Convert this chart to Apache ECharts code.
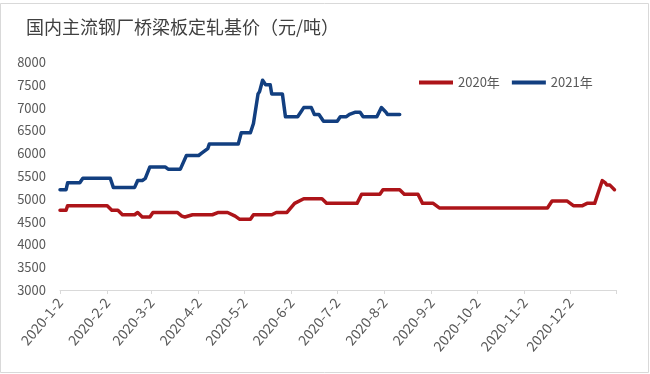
<!DOCTYPE html>
<html>
<head>
<meta charset="utf-8">
<script src="https://cdn.jsdelivr.net/npm/echarts@6/dist/echarts.min.js"></script>
<style>
html,body{margin:0;padding:0;background:#fff;}
#chart{width:650px;height:374px;}
</style>
</head>
<body>
<div id="chart"></div>
<script>
// Title and legend text
const titleText = '国内主流钢厂桥梁板定轧基价（元/吨）';
const seriesNames = ['2020年', '2021年'];

// Y axis ticks
const yMin = 3000, yMax = 8000, yStep = 500;

// 2020 price points (date, value)
const dates2020 = ['2020-1-2','2020-1-6','2020-1-7','2020-2-2','2020-2-5','2020-2-9','2020-2-12','2020-2-20','2020-2-22','2020-2-23','2020-2-25','2020-3-1','2020-3-3','2020-3-19','2020-3-22','2020-3-24','2020-3-29','2020-4-11','2020-4-15','2020-4-21','2020-4-26','2020-4-29','2020-5-6','2020-5-8','2020-5-20','2020-5-23','2020-5-30','2020-6-4','2020-6-10','2020-6-22','2020-6-25','2020-7-15','2020-7-18','2020-7-30','2020-8-1','2020-8-12','2020-8-15','2020-8-24','2020-8-27','2020-9-3','2020-9-7','2020-11-17','2020-11-20','2020-11-30','2020-12-4','2020-12-10','2020-12-13','2020-12-18','2020-12-23','2020-12-25','2020-12-26','2020-12-28','2020-12-31'];
const price2020 = [4750,4750,4850,4850,4750,4750,4650,4650,4700,4700,4600,4600,4700,4700,4620,4600,4650,4650,4700,4700,4620,4550,4550,4650,4650,4700,4700,4900,5000,5000,4900,4900,5100,5100,5200,5200,5100,5100,4900,4900,4800,4800,4950,4950,4850,4850,4900,4900,5400,5350,5300,5300,5200];

// 2021 price points, placed at the same month-day on the shared axis
const dates2021 = ['2020-1-2','2020-1-6','2020-1-7','2020-1-15','2020-1-17','2020-2-4','2020-2-6','2020-2-20','2020-2-22','2020-2-25','2020-2-27','2020-2-28','2020-3-1','2020-3-11','2020-3-13','2020-3-21','2020-3-25','2020-4-2','2020-4-4','2020-4-8','2020-4-9','2020-4-28','2020-4-30','2020-5-6','2020-5-8','2020-5-11','2020-5-12','2020-5-14','2020-5-16','2020-5-19','2020-5-20','2020-5-27','2020-5-29','2020-6-6','2020-6-8','2020-6-10','2020-6-15','2020-6-17','2020-6-20','2020-6-23','2020-7-2','2020-7-4','2020-7-8','2020-7-10','2020-7-14','2020-7-17','2020-7-19','2020-7-28','2020-7-31','2020-8-3','2020-8-4','2020-8-12'];
const price2021 = [5200,5200,5350,5350,5450,5450,5250,5250,5400,5400,5450,5450,5700,5700,5650,5650,5950,5950,6000,6100,6200,6200,6450,6450,6650,7300,7350,7600,7500,7500,7300,7300,6800,6800,6900,7000,7000,6850,6850,6700,6700,6800,6800,6850,6900,6900,6800,6800,7000,6900,6850,6850];

// Daily category axis from 2020-1-2 to 2021-1-1
const categories = [];
for (let t = Date.UTC(2020,0,2); t <= Date.UTC(2021,0,1); t += 86400000) {
  const d = new Date(t);
  categories.push(d.getUTCFullYear() + '-' + (d.getUTCMonth()+1) + '-' + d.getUTCDate());
}
const isMonthLabel = (idx, val) => /-2$/.test(val) && val.indexOf('2020') === 0;

const chart = echarts.init(document.getElementById('chart'));
const font = '"Noto Sans CJK SC", "Noto Sans", sans-serif';
chart.setOption({
  backgroundColor: '#fff',
  animation: false,
  title: {
    text: titleText,
    left: 21, top: 13,
    textStyle: { fontFamily: font, fontSize: 18, fontWeight: 'normal', color: '#404040' }
  },
  legend: {
    data: seriesNames,
    left: 414, top: 71,
    icon: 'rect',
    itemWidth: 34, itemHeight: 4,
    itemGap: 12,
    textStyle: { fontFamily: font, fontSize: 13, color: '#595959' }
  },
  graphic: [{
    type: 'rect', shape: { x: 0.5, y: 3.5, width: 648, height: 369 },
    style: { fill: 'none', stroke: '#d9d9d9', lineWidth: 1 }, silent: true, z: -1
  }],
  grid: { left: 60, right: 34, top: 62, bottom: 84 },
  xAxis: {
    type: 'category',
    data: categories,
    boundaryGap: false,
    axisLine: { lineStyle: { color: '#d9d9d9', width: 1 } },
    axisTick: { show: true, length: 4, interval: (i, v) => isMonthLabel(i, v) || i === categories.length - 1, lineStyle: { color: '#d9d9d9' } },
    axisLabel: { interval: isMonthLabel, rotate: 50, fontFamily: font, fontSize: 14, color: '#595959', margin: 10 },
    splitLine: { show: false }
  },
  yAxis: {
    type: 'value',
    min: yMin, max: yMax, interval: yStep,
    axisLine: { show: false },
    axisTick: { show: false },
    splitLine: { show: false },
    axisLabel: { fontFamily: font, fontSize: 13, color: '#595959', margin: 14, formatter: v => String(v) }
  },
  series: [
    {
      name: seriesNames[0], type: 'line', showSymbol: false, symbol: 'none',
      data: dates2020.map((d, i) => [d, price2020[i]]),
      lineStyle: { color: '#AD1419', width: 3.5, join: 'round', cap: 'round' },
      itemStyle: { color: '#AD1419' }
    },
    {
      name: seriesNames[1], type: 'line', showSymbol: false, symbol: 'none',
      data: dates2021.map((d, i) => [d, price2021[i]]),
      lineStyle: { color: '#123F80', width: 3.5, join: 'round', cap: 'round' },
      itemStyle: { color: '#123F80' }
    }
  ]
});
</script>
</body>
</html>
